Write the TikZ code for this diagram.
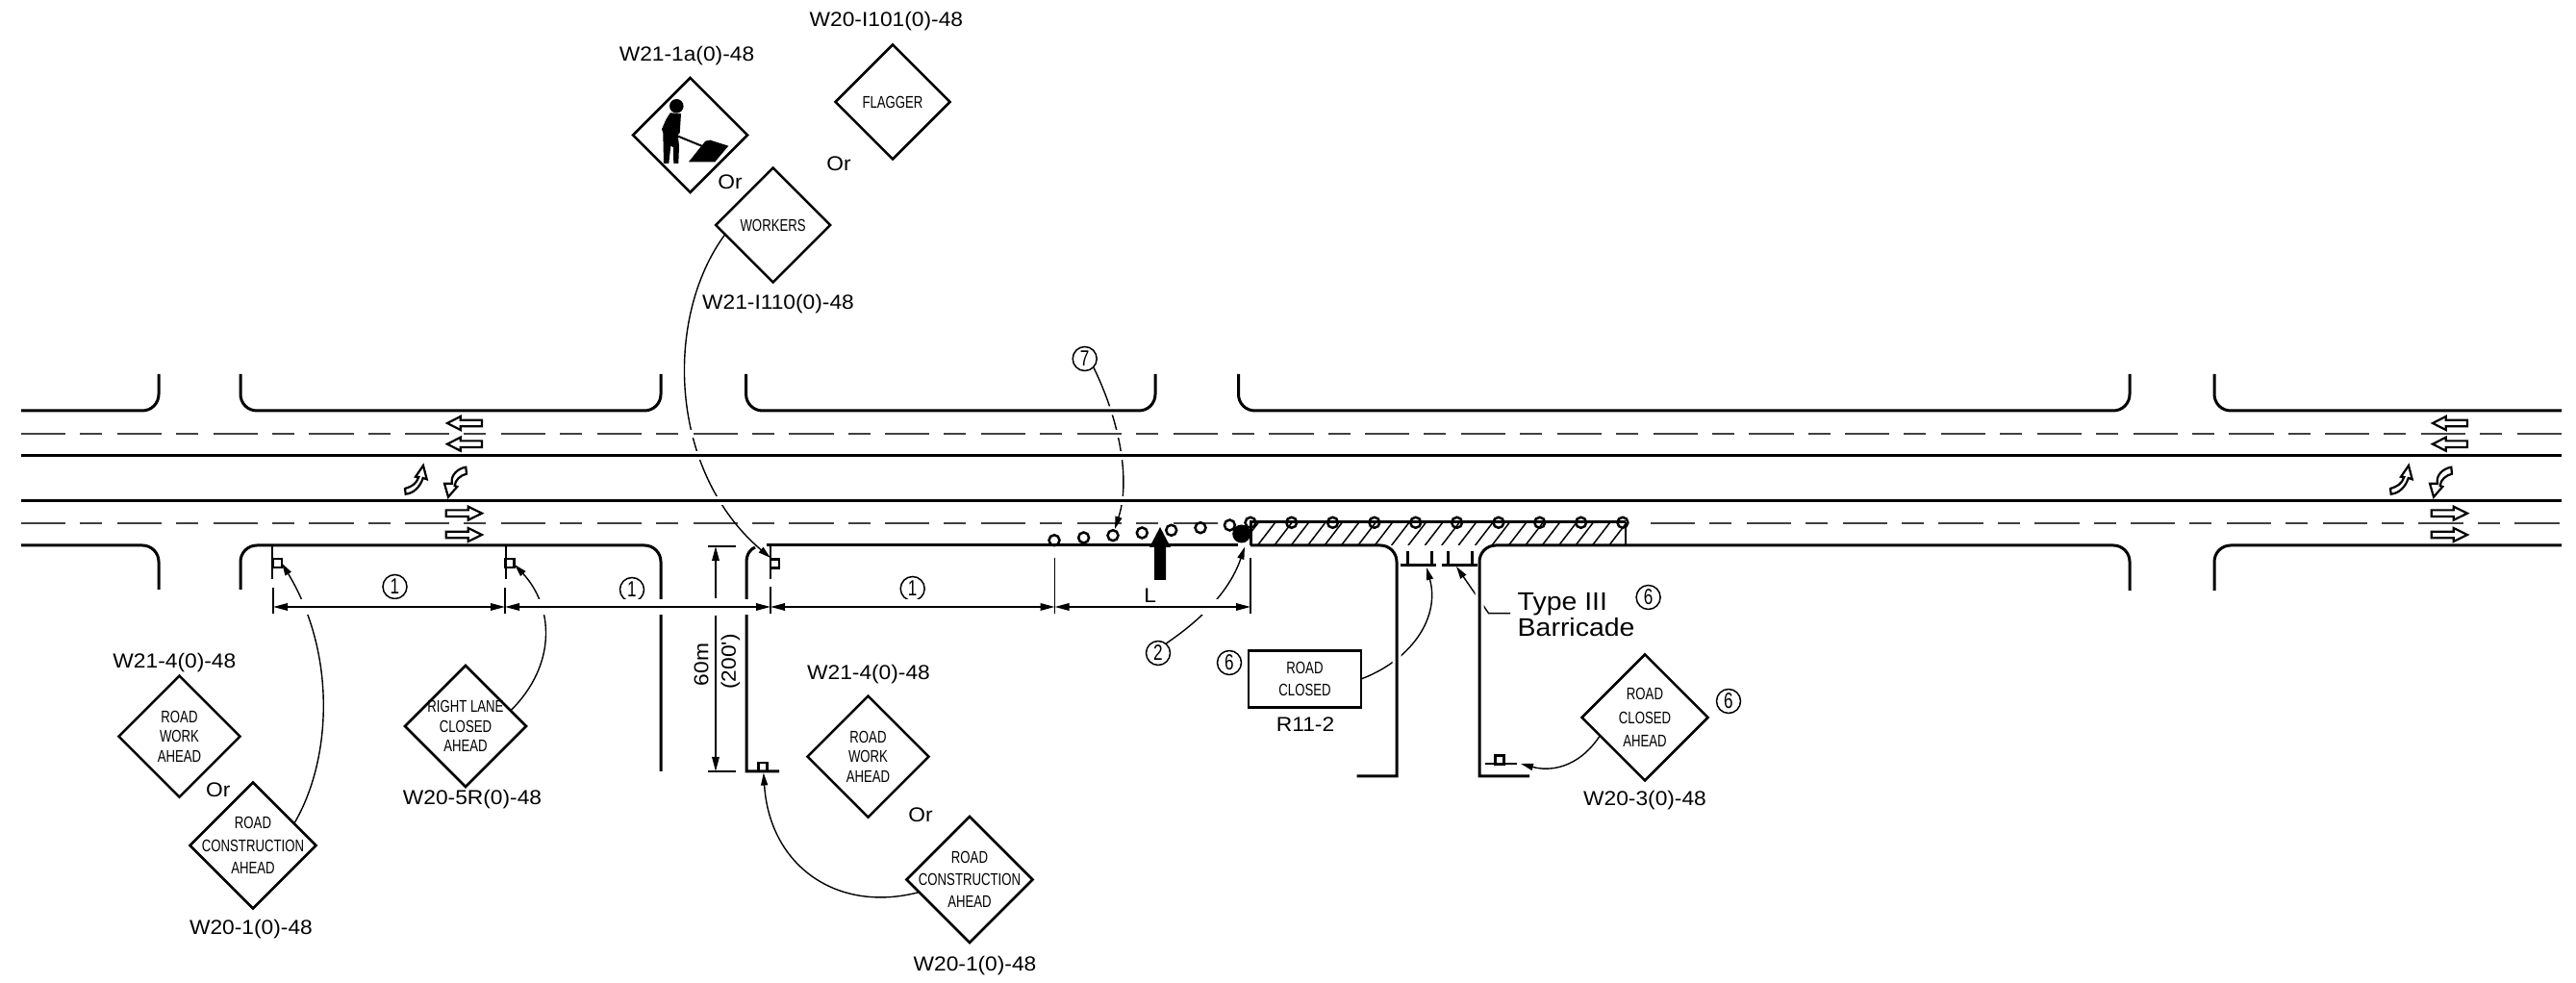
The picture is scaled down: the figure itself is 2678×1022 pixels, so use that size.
\documentclass[tikz,border=0pt]{standalone}
\usepackage{fontspec}
\usepackage{tikz}
\usetikzlibrary{shapes.geometric, arrows.meta}
\setmainfont{Liberation Sans}
\newfontfamily\cadfont[FakeStretch=1.08]{Liberation Sans}
\newfontfamily\signfont[FakeStretch=0.75]{Liberation Sans}
\tikzset{
    signd/.style={diamond, draw, line width=0.25mm, inner sep=0pt, outer sep=0pt, minimum width=#1, minimum height=#1},
    signtext/.style={font=\signfont\fontsize{5}{#1}\selectfont, align=center, inner sep=0pt},
    codelabel/.style={font=\cadfont\fontsize{6}{7}\selectfont, inner sep=0pt},
    numc/.style={circle, draw, line width=0.15mm, inner sep=0pt, minimum size=2.5mm, font=\signfont\fontsize{6.5}{7}\selectfont},
    cone/.style={circle, draw, line width=0.25mm, inner sep=0pt, minimum size=1.1mm},
    sq/.style={rectangle, draw, line width=0.22mm, inner sep=0pt, outer sep=0pt, minimum size=0.9mm},
    road/.style={line width=0.3mm, preaction={draw=white, line width=0.9mm}},
    stripe/.style={line width=0.25mm, black!75, dash pattern=on 4.63mm off 1.5mm on 2.3mm off 1.55mm},
    leader/.style={line width=0.14mm, -{Triangle[length=1.3mm, width=0.7mm]}},
    dimn/.style={line width=0.16mm, {Triangle[length=1.5mm, width=0.75mm]}-{Triangle[length=1.5mm, width=0.75mm]}},
    dimtail/.style={line width=0.16mm, -{Triangle[length=1.5mm, width=0.75mm]}},
    hollow/.style={line width=0.22mm, fill=white},
}
\begin{document}
\begin{tikzpicture}[x=0.1mm, y=-0.1mm]

    \useasboundingbox (0,0) rectangle (2678,1022);

    % Draw the signs
    \node[signd=12.6mm] (work1) at (186.5,765.6) {};
    \node[signd=13.1mm] (cons1) at (263,879) {};
    \node[signd=12.6mm] (lane) at (484,755) {};
    \node[signd=11.9mm] (wkr) at (717.5,140.5) {};
    \node[signd=11.9mm] (flag) at (928,106) {};
    \node[signd=11.9mm] (workers) at (803.6,234) {};
    \node[signd=12.6mm] (work2) at (902.5,786.6) {};
    \node[signd=13.1mm] (cons2) at (1008,914.5) {};
    \node[signd=13.1mm] (closed) at (1710,746) {};
    \node[draw, line width=0.25mm, inner sep=0pt, outer sep=0pt, minimum width=11.7mm, minimum height=5.9mm] (r112) at (1356.5,706) {};

    % Circled numbers
    \node[numc] (n1a) at (410.5,610) {1};
    \node[numc] (n1b) at (657,613) {1};
    \node[numc] (n1c) at (948.7,612) {1};
    \node[numc] (n2) at (1204,679) {2};
    \node[numc] (n6a) at (1278,689) {6};
    \node[numc] (n6b) at (1713.6,621) {6};
    \node[numc] (n6c) at (1797,729) {6};
    \node[numc] (n7) at (1127.7,373) {7};

    % Leader ends
    \coordinate (tip1) at (293,585.5);
    \coordinate (tip2) at (535,587);
    \coordinate (tip3) at (801,580);
    \coordinate (tip4) at (793.8,803.5);
    \coordinate (bar1) at (1483,590);
    \coordinate (bar2) at (1514,589);
    \coordinate (bar3) at (1581,794);
    \coordinate (flash) at (1294,568.5);
    \coordinate (cone3) at (1159,550);

    % Lower stripe goes under the leaders
    \draw[stripe] (22,544) -- (1270,544);
    \draw[stripe] (1716,544) -- (2663,544);

    % Leaders, cut later where lines cross them
    \draw[leader] (cons1.28) .. controls (345,790) and (350,680) .. (tip1);
    \draw[leader] (lane.19) .. controls (580,690) and (575,630) .. (tip2);
    \draw[leader] (workers.191) .. controls (690,330) and (695,490) .. (tip3);
    \draw[leader] (n2.50) .. controls (1255,640) and (1280,610) .. (flash);
    \draw[leader] (r112.east) .. controls (1470,685) and (1497,640) .. (bar1);
    \draw[leader] (n7.south east) .. controls (1165,440) and (1175,500) .. (cone3);
    \coordinate (bart) at (1570,637.7);
    \draw[leader] (bart) -- (1547.6,637.7) -- (bar2);

    % Draw the road
    \draw[stripe, preaction={draw=white, line width=0.8mm}] (22,451) -- (2663,451);
    \draw[road] (22,474) -- (2663,474);
    \draw[road] (22,521) -- (2663,521);

    \begin{scope}[rounded corners=1.7mm]
        \draw[road] (22,427) -| (165,389);
        \draw[road] (250,389) |- (687,427) -- (687,389);
        \draw[road] (775.6,389) |- (1201,427) -- (1201,389);
        \draw[road] (1287.5,389) |- (2214,427) -- (2214,389);
        \draw[road] (2302,389) |- (2663,427);
        \draw[road] (22,567) -| (165,613);
        \draw[road] (2302,614) |- (2663,567);
    \end{scope}
    \draw[road] [rounded corners=1.7mm] (250,613) |- (687,567) [sharp corners] -- (687,802);
    \draw[road] (810,802) -- (776,802) -- (776,585) .. controls (776,576) and (780,571) .. (785,569);
    \draw[road] (797,567) -- (1287,567);
    \draw[road] [rounded corners=1.7mm] (1300,567) -| (1452,700) [sharp corners] -- (1452,807) -- (1410.5,807);
    \draw[road] (1590,807) -- (1538,807) -- (1538,700) [rounded corners=1.7mm] |- (2214,567) -- (2214,614);

    % These two leaders end close to a line
    \draw[leader] (cons2.194) .. controls (870,950) and (800,900) .. (tip4);
    \draw[leader] (closed.202) .. controls (1640,800) and (1610,802) .. (bar3);

    % Hatched closed lane
    \begin{scope}
        \clip (1300,543) rectangle (1690,567);
        \foreach \x in {1290,1307.4,...,1700}
            \draw[line width=0.15mm] (\x,567) -- (\x+18.5,543);
    \end{scope}
    \draw[line width=0.3mm] (1300,567) -- (1300,543) -- (1690,543);
    \draw[line width=0.16mm] (1690,543) -- (1690,567);

    % Sixty metre dimension
    \coordinate (d6) at (744,568);
    \coordinate (d7) at (744,802);
    \draw[line width=0.16mm] (736,568) -- (765,568);
    \draw[line width=0.16mm] (736,802) -- (765,802);
    \draw[dimtail] (744,622) -- (d6);
    \draw[dimtail] (744,640) -- (d7);

    % Dimensions along the road
    \coordinate (d1) at (284,631);
    \coordinate (d2) at (525,631);
    \coordinate (d3) at (801,631);
    \coordinate (d4) at (1096.5,631);
    \coordinate (d5) at (1300,631);
    \draw[white, line width=1.6mm] (d1) -- (d5);
    \draw[dimn] (d1) -- (d2);
    \draw[dimn] (d2) -- (d3);
    \draw[dimn] (d3) -- (d4);
    \draw[dimn] (d4) -- (d5);
    \draw[line width=0.16mm] (284,611) -- (d1) -- (284,638);
    \draw[line width=0.16mm] (525,611) -- (d2) -- (525,638);
    \draw[line width=0.16mm] (801,610) -- (d3) -- (801,638);
    \draw[line width=0.16mm] (1096.5,580) -- (d4) -- (1096.5,638);
    \draw[line width=0.16mm] (1300,580) -- (d5) -- (1300,638);

    % Sign posts and barricades
    \node[sq] (sq1) at (288.5,585.5) {};
    \node[sq] (sq2) at (530,585.5) {};
    \node[sq] (sq3) at (805.5,586) {};
    \node[sq] (sq4) at (793,797.5) {};
    \node[sq] (sq5) at (1559,790) {};
    \draw[line width=0.25mm] (283,568) -- (283,602);
    \draw[line width=0.25mm] (526,568) -- (526,602);
    \draw[line width=0.25mm] (801,568) -- (801,602);
    \draw[line width=0.3mm] (1456,587.7) -- (1493,587.7);
    \draw[line width=0.3mm] (1463,572.7) -- (1463,587.7);
    \draw[line width=0.3mm] (1488,572.7) -- (1488,587.7);
    \draw[line width=0.3mm] (1498.5,587.7) -- (1535.5,587.7);
    \draw[line width=0.3mm] (1505,572.7) -- (1505,587.7);
    \draw[line width=0.3mm] (1530,572.7) -- (1530,587.7);
    \draw[line width=0.25mm] (1543.6,794) -- (1577,794);

    % Cones and the work vehicle
    \foreach \x/\y [count=\i] in {1096/561.7, 1126.6/559, 1157/556.7, 1187.3/554, 1217.7/551.3, 1248/548.7, 1278.4/546, 1300/543.3, 1342.7/543.3, 1385.5/543.3, 1428.8/543.3, 1471.7/543.3, 1514.6/543.3, 1557.9/543.3, 1600.7/543.3, 1643.6/543.3, 1686.9/543.3}
        \node[cone] (c\i) at (\x,\y) {};
    \node[circle, fill=black, inner sep=0pt, minimum size=1.9mm] (flasher) at (1290.7,555) {};
    \fill (1200,603) -- (1200,569) -- (1195,569) -- (1206,548) -- (1217,569) -- (1212,569) -- (1212,603) -- cycle;

    % Traffic arrows at both ends
    \foreach \dx in {0,2064} {
        \begin{scope}[shift={(\dx,0)}]
            \draw[hollow] (465,440) -- (478.7,433) -- (478.7,436.7) -- (501,436.7) -- (501,443.3) -- (478.7,443.3) -- (478.7,447) -- cycle;
            \draw[hollow] (465,461.7) -- (478.7,454.7) -- (478.7,458.4) -- (501,458.4) -- (501,465) -- (478.7,465) -- (478.7,468.7) -- cycle;
            \draw[hollow] (501,533.7) -- (486.7,526.7) -- (486.7,530.4) -- (463.7,530.4) -- (463.7,537) -- (486.7,537) -- (486.7,540.7) -- cycle;
            \draw[hollow] (501,556) -- (486.7,549) -- (486.7,552.7) -- (463.7,552.7) -- (463.7,559.3) -- (486.7,559.3) -- (486.7,563) -- cycle;
            \draw[hollow] (421,508) .. controls (428,506) and (433,503) .. (435.3,496) -- (432,495.7) -- (440,484) -- (443.7,498.3) -- (439.7,497) .. controls (437,506) and (430,513) .. (421.7,513.7) -- cycle;
            \draw[hollow] (484.3,485.7) .. controls (476,487) and (468,494) .. (470,502.7) -- (462,502.7) -- (466,516.7) -- (475.3,506) -- (472.7,505) .. controls (473,499) and (479,494) .. (485,492.7) -- cycle;
        \end{scope}
    }

    % Worker symbol
    \fill (703.3,110.3) circle (7.3);
    \fill (696.7,117.3) -- (708,118.3) -- (706.7,138.3) -- (704.7,140) -- (706,151.7) -- (705.3,170) -- (700.3,170) -- (700,153.3) -- (697.3,151.7) -- (695.3,170) -- (690,170) -- (689.3,138.3) -- (688,134.3) -- (692,125) -- cycle;
    \draw[line width=0.2mm] (703.3,141) -- (733.3,153.3);
    \fill (716,168.3) -- (733.3,146.7) -- (738.3,145.7) -- (757.3,151.7) -- (743.3,168.3) -- cycle;

    % Sign wording
    \node[signtext=5.8] (t1) at (work1) {ROAD\\WORK\\AHEAD};
    \node[signtext=6.6] (t2) at (cons1) {ROAD\\CONSTRUCTION\\AHEAD};
    \node[signtext=5.8] (t3) at (lane) {RIGHT LANE\\CLOSED\\AHEAD};
    \node[signtext=5.8] (t4) at (flag) {FLAGGER};
    \node[signtext=5.8] (t5) at (workers) {WORKERS};
    \node[signtext=5.8] (t6) at (work2) {ROAD\\WORK\\AHEAD};
    \node[signtext=6.6] (t7) at (cons2) {ROAD\\CONSTRUCTION\\AHEAD};
    \node[signtext=7] (t8) at (closed) {ROAD\\CLOSED\\AHEAD};
    \node[signtext=6.3] (t9) at (r112) {ROAD\\CLOSED};

    % Label the signs
    \node[codelabel] (l1) at (181.4,689) {W21-4(0)-48};
    \node[codelabel] (l2) at (261,966) {W20-1(0)-48};
    \node[codelabel] (l3) at (491,831.5) {W20-5R(0)-48};
    \node[codelabel] (l4) at (903,701.4) {W21-4(0)-48};
    \node[codelabel] (l5) at (1013.5,1004) {W20-1(0)-48};
    \node[codelabel] (l6) at (921.4,22) {W20-I101(0)-48};
    \node[codelabel] (l7) at (714,58) {W21-1a(0)-48};
    \node[codelabel] (l8) at (809,316) {W21-I110(0)-48};
    \node[codelabel] (l9) at (1357,753) {R11-2};
    \node[codelabel] (l10) at (1710,832) {W20-3(0)-48};
    \node[codelabel] (or1) at (226.7,821) {Or};
    \node[codelabel] (or2) at (957,847) {Or};
    \node[codelabel] (or3) at (759,189) {Or};
    \node[codelabel] (or4) at (872,170) {Or};
    \node[codelabel] (ll) at (1195.6,619) {L};
    \node[codelabel, rotate=90] (m60) at (729,691) {60m};
    \node[codelabel, rotate=90] (ft200) at (759.5,688) {(200')};
    \node[codelabel, anchor=west, font=\cadfont\fontsize{7.5}{8}\selectfont] (t3a) at (1577,627.7) {Type III};
    \node[codelabel, anchor=west, font=\cadfont\fontsize{7.5}{8}\selectfont] (t3b) at (1577,651.7) {Barricade};

\end{tikzpicture}
\end{document}
